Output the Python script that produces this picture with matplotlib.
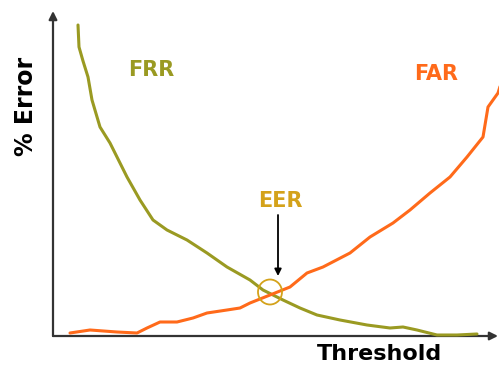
import matplotlib
matplotlib.use("Agg")
import matplotlib.pyplot as plt
from matplotlib.patches import Ellipse

# Threshold / error values (arbitrary units, origin at the axes corner)
frr_x = [25, 26, 30, 35, 39, 47, 57, 74, 87, 100, 114, 134, 154, 174, 197, 210, 230,
         247, 264, 287, 314, 337, 350, 364, 384, 404, 424]
frr_y = [311, 289, 275, 259, 236, 209, 193, 159, 136, 116, 106, 96, 83, 69, 56, 46, 36,
         28, 21, 16, 11, 8, 9, 6, 1, 1, 2]
far_x = [17, 37, 64, 84, 94, 107, 124, 140, 154, 174, 187, 197, 217, 237, 254, 270,
         297, 317, 340, 357, 377, 397, 414, 430, 435, 445, 449]
far_y = [3, 6, 4, 3, 8, 14, 14, 18, 23, 26, 28, 33, 41, 49, 63, 69,
         83, 99, 113, 126, 143, 159, 179, 199, 229, 243, 256]
eer_point = (217, 44)

FRR_C = "#9a9a22"
FAR_C = "#ff6a1a"
EER_C = "#d4a21a"

fig = plt.figure(figsize=(4.99, 3.66), dpi=100)
ax = fig.add_axes([0, 0, 1, 1])
ax.set_xlim(-53, 446)
ax.set_ylim(-30, 336)
ax.axis("off")

ax.plot(frr_x, frr_y, color=FRR_C, lw=2.2, solid_capstyle="round",
        solid_joinstyle="round", zorder=3)
ax.plot(far_x, far_y, color=FAR_C, lw=2.2, solid_capstyle="round",
        solid_joinstyle="round", zorder=3)

# axes with arrows
ax.annotate("", xy=(0, 325), xytext=(0, 0),
            arrowprops=dict(arrowstyle="-|>", color="#333333", lw=1.6,
                            mutation_scale=12, shrinkA=0, shrinkB=0), zorder=2)
ax.annotate("", xy=(445, 0), xytext=(0, 0),
            arrowprops=dict(arrowstyle="-|>", color="#333333", lw=1.6,
                            mutation_scale=12, shrinkA=0, shrinkB=0), zorder=2)

# EER marker
ax.add_patch(Ellipse(eer_point, 24, 25, fill=False, edgecolor=EER_C, lw=1.3, zorder=4))
ax.annotate("", xy=(225, 60), xytext=(225, 121),
            arrowprops=dict(arrowstyle="-|>", color="black", lw=1.3,
                            mutation_scale=10, shrinkA=0, shrinkB=0))

ax.text(98, 266, "FRR", color=FRR_C, fontsize=15, fontweight="bold",
        ha="center", va="center")
ax.text(383, 262, "FAR", color=FAR_C, fontsize=15, fontweight="bold",
        ha="center", va="center")
ax.text(227, 135, "EER", color=EER_C, fontsize=15, fontweight="bold",
        ha="center", va="center")
ax.text(-27, 230, "% Error", color="black", fontsize=17, fontweight="bold",
        rotation=90, ha="center", va="center")
ax.text(327, -18, "Threshold", color="black", fontsize=16, fontweight="bold",
        ha="center", va="center")

fig.savefig("out.png", dpi=100, facecolor="white")
